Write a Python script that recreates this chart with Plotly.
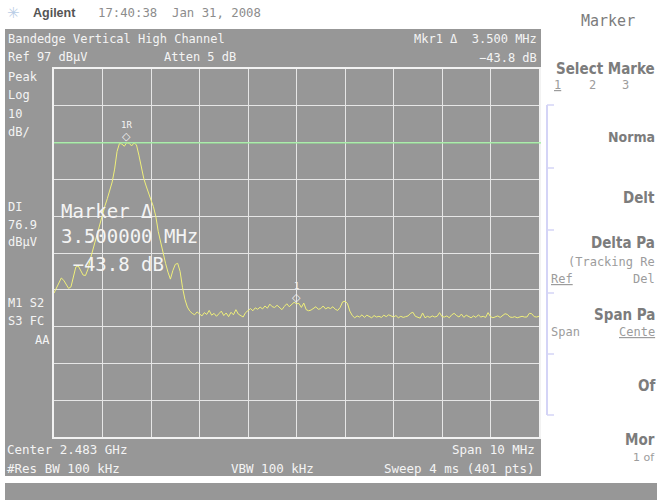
import plotly.graph_objects as go

# ---------------- data ----------------
CENTER_GHZ = 2.483
SPAN_MHZ = 10.0
REF_LEVEL = 97.0          # dBuV, top graticule line
SCALE_DB = 10.0           # dB per division
DISPLAY_LINE = 76.9       # dBuV
STEP_MHZ = 0.05           # sampling of the readings below

# trace level (dBuV) every 0.05 MHz from the left edge of the span
levels = [
    36.1, 37.4, 38.8, 40.2, 39.6, 38.6, 37.4, 37.8, 40.5, 43.2,
    43.5, 42.2, 41.0, 40.9, 42.6, 45.4, 47.8, 50.3, 52.8, 55.2,
    57.8, 59.8, 61.8, 64.1, 66.3, 69.8, 74.6, 76.8, 76.6, 76.0,
    77.0, 76.8, 76.1, 76.9, 76.4, 73.6, 70.5, 67.3, 65.2, 63.1,
    61.4, 59.6, 56.9, 52.8, 49.6, 46.6, 44.2, 41.8, 39.9, 42.2,
    43.9, 44.2, 42.0, 37.6, 34.4, 32.3, 31.2, 30.6, 30.2, 31.0,
    30.4, 29.9, 30.8, 30.3, 31.4, 30.1, 30.6, 29.8, 30.5, 31.2,
    30.0, 30.7, 29.7, 30.9, 30.2, 31.6, 30.4, 30.0, 29.6, 30.8,
    31.4, 31.9, 31.3, 32.1, 31.7, 32.3, 31.8, 32.6, 32.0, 33.1,
    32.4, 32.2, 32.8, 32.1, 31.6, 32.5, 33.2, 32.4, 32.9, 33.6,
    33.2, 33.3, 32.2, 33.4, 31.6, 31.3, 31.5, 31.9, 32.4, 31.7,
    31.9, 32.6, 31.8, 32.2, 31.9, 32.4, 31.7, 31.4, 32.2, 33.7,
    33.9, 33.3, 31.2, 30.0, 29.4, 29.9, 29.6, 30.2, 29.5, 30.1,
    29.7, 29.4, 30.0, 29.6, 29.8, 29.5, 30.1, 29.7, 30.2, 29.8,
    29.6, 30.0, 29.4, 29.8, 29.5, 29.7, 29.9, 30.6, 30.9, 29.8,
    29.5, 29.3, 30.7, 29.4, 29.8, 29.5, 29.9, 29.6, 29.8, 30.8,
    29.7, 29.6, 29.9, 29.4, 30.2, 30.6, 30.0, 29.6, 30.4, 29.5,
    30.1, 29.7, 29.4, 29.9, 29.5, 30.2, 29.6, 29.8, 29.5, 30.8,
    29.7, 29.4, 29.6, 29.9, 29.5, 30.0, 30.5, 30.3, 29.6, 29.5,
    29.7, 29.4, 29.5, 29.8, 29.6, 29.6, 30.6, 30.5, 29.7, 29.6,
    29.8,
]

MARKER_REF_OFFSET_MHZ = 1.5     # marker 1R position from left edge
MARKER_DELTA_MHZ = 3.5          # delta marker spacing

# ---------------- derived ----------------
start_mhz = CENTER_GHZ * 1000 - SPAN_MHZ / 2
freqs = [start_mhz + i * STEP_MHZ for i in range(len(levels))]

def nearest(f):
    return min(range(len(freqs)), key=lambda i: abs(freqs[i] - f))

iR = nearest(start_mhz + MARKER_REF_OFFSET_MHZ)
i1 = nearest(start_mhz + MARKER_REF_OFFSET_MHZ + MARKER_DELTA_MHZ)
delta_db = levels[i1] - levels[iR]
delta_mhz = freqs[i1] - freqs[iR]

# ---------------- style ----------------
GRAY = "#979797"
WHITE = "#f4f4f4"
MONO = "DejaVu Sans Mono"
SOFT = "DejaVu Sans Condensed, DejaVu Sans"
KEYCOL = "#7c7c7c"
KEYCOL2 = "#9c9c9c"

L, T, R_, B = 54, 69, 539, 437   # plot area in page pixels
W, H = 657, 500

def PX(x):
    return (x - L) / (R_ - L)

def PY(y):
    return (B - y) / (B - T)

fig = go.Figure()
fig.add_trace(go.Scatter(x=freqs, y=levels, mode="lines",
                         line=dict(color="#f0f07a", width=1), hoverinfo="skip"))

anns = []

def label(x, y, text, size=12, color=WHITE, anchor="left", family=MONO,
          weight=None, under=False):
    font = dict(family=family, size=size, color=color)
    if weight:
        font["weight"] = weight
    if under:
        font["lineposition"] = "under"
    anns.append(dict(x=PX(x), y=PY(y), xref="paper", yref="paper", text=text,
                     showarrow=False, xanchor=anchor, yanchor="middle",
                     font=font, borderpad=0))

# markers on the trace
for idx, tag in ((iR, "1R"), (i1, "1")):
    anns.append(dict(x=freqs[idx], y=levels[idx], xref="x", yref="y", text="◇",
                     showarrow=False, yshift=6, font=dict(family="DejaVu Sans", size=11, color=WHITE)))
    anns.append(dict(x=freqs[idx], y=levels[idx], xref="x", yref="y", text=tag,
                     showarrow=False, yshift=18, font=dict(family=MONO, size=9, color=WHITE)))

# top header (white page)
label(6, 13, "✳", size=15, color="#b9cde6", family="DejaVu Sans")
label(32, 13, "Agilent", size=12.5, color="#555555", family="Liberation Sans", weight="bold")
label(97, 13, "17:40:38  Jan 31, 2008", size=12.3, color="#8c8c8c")

# header inside the screen
label(7, 39, "Bandedge Vertical High Channel")
label(7, 57, f"Ref {REF_LEVEL:.0f} dBµV")
label(163, 57, "Atten 5 dB")
label(538, 39, f"Mkr1 Δ  {delta_mhz:.3f} MHz", anchor="right")
label(538, 58, f"−{abs(delta_db):.1f} dB", anchor="right")

# left column
for y, t in ((77, "Peak"), (95, "Log"), (114, f"{SCALE_DB:.0f}"), (132, "dB/"),
             (207, "DI"), (225, f"{DISPLAY_LINE:.1f}"), (242, "dBµV"),
             (303, "M1 S2"), (321, "S3 FC")):
    label(7, y, t)
label(51, 340, "AA", anchor="right")

# big marker readout
label(60, 211, "Marker Δ", size=19)
label(60, 236, f"{delta_mhz:.6f} MHz", size=19)
label(60, 264, f"\u00a0−{abs(delta_db):.1f} dB", size=19)

# bottom lines
label(6, 449, f"Center {CENTER_GHZ:.3f} GHz", size=12.5)
label(536, 449, f"Span {SPAN_MHZ:.0f} MHz", size=12.5, anchor="right")
label(6, 468, "#Res BW 100 kHz", size=12.5)
label(230, 468, "VBW 100 kHz", size=12.5)
label(536, 468, f"Sweep 4 ms ({len(levels)*2-1} pts)", size=12.5, anchor="right")

# softkey panel (the screenshot ends at the right edge, so labels are truncated there)
EDGE = 656
label(580, 21, "Marker", size=15, color=KEYCOL)
label(EDGE, 69, "Select Marke", size=15, color=KEYCOL, family=SOFT, weight="bold", anchor="right")
label(553, 85, "1", size=12, color=KEYCOL2, under=True)
label(588, 85, "2", size=12, color=KEYCOL2)
label(621, 85, "3", size=12, color=KEYCOL2)
label(EDGE, 137, "Norma", size=14, color=KEYCOL, family=SOFT, weight="bold", anchor="right")
label(EDGE, 198, "Delt", size=15, color=KEYCOL, family=SOFT, weight="bold", anchor="right")
label(EDGE, 243, "Delta Pa", size=15, color=KEYCOL, family=SOFT, weight="bold", anchor="right")
label(EDGE, 262, "(Tracking Re", size=12, color=KEYCOL2, anchor="right")
label(550, 279, "Ref", size=12, color=KEYCOL2, under=True)
label(EDGE, 279, "Del", size=12, color=KEYCOL2, anchor="right")
label(EDGE, 315, "Span Pa", size=15, color=KEYCOL, family=SOFT, weight="bold", anchor="right")
label(550, 332, "Span", size=12, color=KEYCOL2)
label(EDGE, 332, "Cente", size=12, color=KEYCOL2, under=True, anchor="right")
label(EDGE, 386, "Of", size=15, color=KEYCOL, family=SOFT, weight="bold", anchor="right")
label(EDGE, 440, "Mor", size=15, color=KEYCOL, family=SOFT, weight="bold", anchor="right")
label(EDGE, 457, "1 of", size=11, color=KEYCOL2, family="DejaVu Sans", anchor="right")

# shapes
shapes = [
    dict(type="rect", xref="paper", yref="paper", x0=PX(5), x1=PX(541), y0=PY(29), y1=PY(476),
         fillcolor=GRAY, line=dict(width=0), layer="below"),
    dict(type="rect", xref="paper", yref="paper", x0=PX(5), x1=PX(657), y0=PY(483), y1=PY(500),
         fillcolor=GRAY, line=dict(width=0), layer="below"),
    dict(type="line", xref="paper", yref="y", x0=0, x1=PX(541), y0=DISPLAY_LINE, y1=DISPLAY_LINE,
         line=dict(color="#98ee98", width=1.2), layer="above"),
    dict(type="line", xref="paper", yref="paper", x0=PX(547), x1=PX(547), y0=PY(105), y1=PY(415),
         line=dict(color="#d4d4f6", width=2)),
]
for ty in (105, 168, 230, 293, 354, 415):
    shapes.append(dict(type="line", xref="paper", yref="paper", x0=PX(547), x1=PX(554),
                       y0=PY(ty), y1=PY(ty), line=dict(color="#d4d4f6", width=1.5)))

axis_common = dict(showticklabels=False, ticks="", zeroline=False, showgrid=True,
                   gridcolor="#e6e6e6", gridwidth=1.2, showline=True, mirror=True,
                   linecolor="#f2f2f2", linewidth=2)

fig.update_layout(
    width=W, height=H, autosize=False,
    margin=dict(l=L, r=W - R_, t=T, b=H - B, pad=0),
    paper_bgcolor="white", plot_bgcolor=GRAY,
    showlegend=False,
    xaxis=dict(range=[start_mhz, start_mhz + SPAN_MHZ], dtick=SPAN_MHZ / 10,
               tick0=start_mhz, **axis_common),
    yaxis=dict(range=[REF_LEVEL - 10 * SCALE_DB, REF_LEVEL], dtick=SCALE_DB,
               tick0=REF_LEVEL, **axis_common),
    annotations=anns, shapes=shapes,
)

fig.write_html("out.html", config={"displayModeBar": False},
               post_script="document.body.style.margin='0';document.body.style.overflow='hidden';")
